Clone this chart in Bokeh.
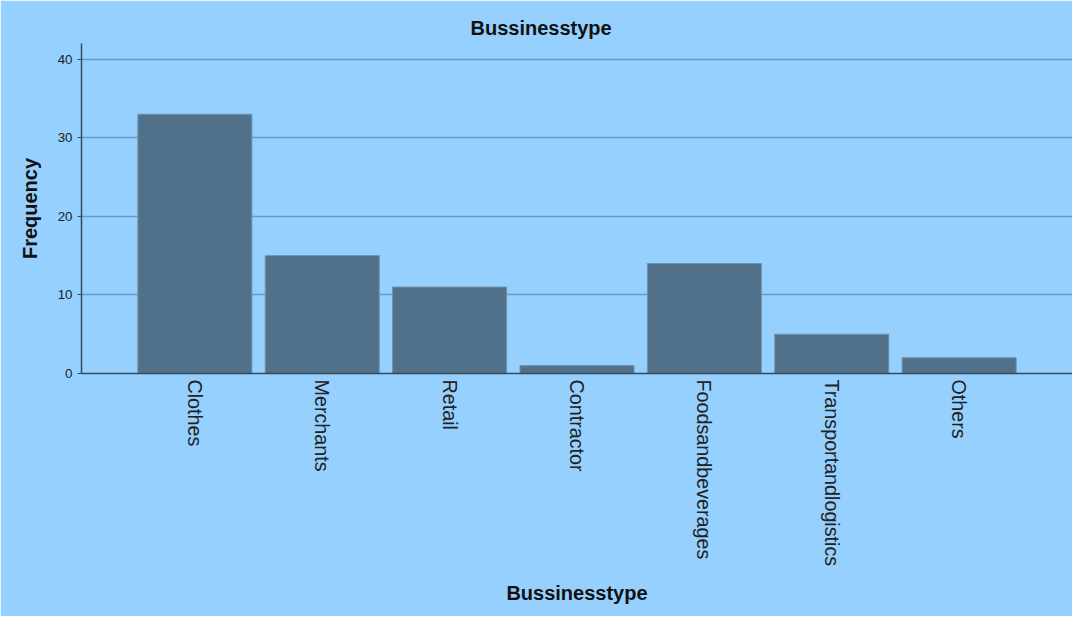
import math
from bokeh.plotting import figure
from bokeh.models import FactorRange, Range1d, ColumnDataSource, FixedTicker
from bokeh.embed import file_html
from bokeh.resources import INLINE

categories = ["Clothes", "Merchants", "Retail", "Contractor",
              "Foodsandbeverages", "Transportandlogistics", "Others"]
frequency = [33, 15, 11, 1, 14, 5, 2]
y_ticks = [0, 10, 20, 30, 40]

BG = "#96D0FE"
src = ColumnDataSource(dict(cat=categories, freq=frequency))

p = figure(width=1072, height=616, output_backend="svg", toolbar_location=None,
           x_range=FactorRange(factors=categories, range_padding=0.39,
                               range_padding_units="absolute"),
           y_range=Range1d(0, 42),
           min_border_left=81, min_border_right=0, min_border_top=43,
           min_border_bottom=243)
p.background_fill_color = BG
p.border_fill_color = BG
p.outline_line_color = BG
p.outline_line_width = 1.5

p.vbar(x="cat", top="freq", width=0.895, source=src,
       fill_color="#51718B", line_color="#7190AA", line_width=1)

p.title.text = "Bussinesstype"
p.title.align = "left"
p.title.text_font = "Liberation Sans"
p.title.text_font_size = "15pt"
p.title.text_font_style = "bold"
p.title.text_color = "#111111"
p.title.offset = 389
p.title.standoff = 10

p.xgrid.grid_line_color = None
p.ygrid.grid_line_color = "#6A9AC2"
p.ygrid.grid_line_width = 1.3
p.ygrid.ticker = FixedTicker(ticks=y_ticks)

p.yaxis.ticker = FixedTicker(ticks=y_ticks)
p.yaxis.axis_label = "Frequency"
p.yaxis.axis_label_text_font = "Liberation Sans"
p.yaxis.axis_label_text_font_size = "15pt"
p.yaxis.axis_label_text_font_style = "bold"
p.yaxis.axis_label_text_color = "#111111"
p.yaxis.axis_label_standoff = 14
p.yaxis.major_label_text_font = "Liberation Sans"
p.yaxis.major_label_text_font_size = "10pt"
p.yaxis.major_label_text_color = "#222222"
p.yaxis.major_tick_out = 4
p.yaxis.major_tick_in = 0
p.yaxis.minor_tick_line_color = None
p.yaxis.axis_line_color = "#34495A"
p.yaxis.axis_line_width = 1.5
p.yaxis.major_tick_line_color = "#34495A"

p.xaxis.axis_label = "Bussinesstype"
p.xaxis.axis_label_text_font = "Liberation Sans"
p.xaxis.axis_label_text_font_size = "15pt"
p.xaxis.axis_label_text_font_style = "bold"
p.xaxis.axis_label_text_color = "#111111"
p.xaxis.axis_label_standoff = 13
p.xaxis.major_label_orientation = -math.pi / 2
p.xaxis.major_label_text_font = "Liberation Sans"
p.xaxis.major_label_text_font_size = "14.8pt"
p.xaxis.major_label_text_color = "#222222"
p.xaxis.major_tick_line_color = None
p.xaxis.axis_line_color = "#34495A"
p.xaxis.axis_line_width = 1.5
p.xaxis.major_label_standoff = 0

open("out.html", "w").write(file_html(p, INLINE))
